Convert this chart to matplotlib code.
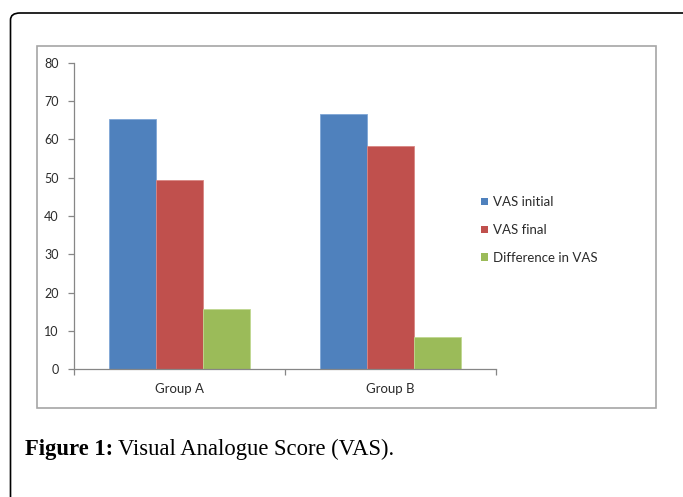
import matplotlib
matplotlib.use("Agg")
import matplotlib.pyplot as plt
import numpy as np
from matplotlib.patches import Rectangle, FancyBboxPatch

categories = ["Group A", "Group B"]
series_names = ["VAS initial", "VAS final", "Difference in VAS"]
vas_initial = [65.4, 66.7]
vas_final = [49.4, 58.2]
vas_diff = [15.7, 8.5]
series_values = [vas_initial, vas_final, vas_diff]
colors = ["#4F81BD", "#C0504D", "#9BBB59"]
edge_colors = ["#7FA6D6", "#D98683", "#C0D890"]
yticks = [0, 10, 20, 30, 40, 50, 60, 70, 80]

W, H = 683, 497
fig = plt.figure(figsize=(W / 100, H / 100), dpi=100)

chart_font = "Lato"
text_color = "#2b2b2b"
axis_color = "#868686"

# outer rounded border (extends beyond right/bottom)
outer = FancyBboxPatch((10.5 / W, (H - 700) / H), (720 - 10.5) / W, (700 - 13) / H,
                       boxstyle="round,pad=0,rounding_size=0.014",
                       transform=fig.transFigure, fill=False,
                       edgecolor="black", linewidth=1.2, clip_on=False)
fig.patches.append(outer)

# inner chart frame
inner = Rectangle((36.5 / W, 1 - 407.5 / H), (656 - 36.5) / W, (407.5 - 45.5) / H,
                  transform=fig.transFigure, fill=False,
                  edgecolor="#A6A6A6", linewidth=1.2)
fig.patches.append(inner)

left, right = 74 / W, 496 / W
bottom, top = 1 - 369.3 / H, 1 - 62.7 / H
ax = fig.add_axes([left, bottom, right - left, top - bottom])

x = np.arange(len(categories))
bw = 47 / 211
for i, (name, vals) in enumerate(zip(series_names, series_values)):
    ax.bar(x + (i - 1) * bw, vals, width=bw, color=colors[i],
           edgecolor=edge_colors[i], linewidth=0.6, label=name, zorder=2)

ax.set_xlim(-0.5, 1.5)
ax.set_ylim(0, 80)
ax.set_yticks(yticks)
ax.set_yticklabels([str(v) for v in yticks], fontfamily=chart_font,
                   fontsize=9, color=text_color)
ax.set_xticks([-0.5, 0.5, 1.5])
ax.set_xticklabels([])
ax.set_xticks(x, minor=True)
ax.set_xticklabels(categories, minor=True, fontfamily=chart_font,
                   fontsize=9.5, color=text_color)
ax.tick_params(axis="x", which="major", direction="out", length=4,
               color=axis_color, width=0.9)
ax.tick_params(axis="x", which="minor", length=0, pad=10)
ax.tick_params(axis="y", direction="out", length=4, color=axis_color,
               width=0.9, pad=7)
for s in ["top", "right"]:
    ax.spines[s].set_visible(False)
for s in ["left", "bottom"]:
    ax.spines[s].set_color(axis_color)
    ax.spines[s].set_linewidth(0.9)
ax.patch.set_alpha(0)

fs_leg = 9.5
leg = ax.legend(loc="center left", bbox_to_anchor=(481 / W, 1 - 230 / H),
                bbox_transform=fig.transFigure, frameon=False,
                prop={"family": chart_font, "size": fs_leg},
                handlelength=0.5, handleheight=0.5, handletextpad=0.4,
                labelspacing=1.2, borderpad=0, borderaxespad=0)
for t in leg.get_texts():
    t.set_color(text_color)
for h in leg.legend_handles:
    h.set_edgecolor("none")

# caption
t1 = fig.text(25 / W, 1 - 455 / H, "Figure 1:", fontfamily="Liberation Serif",
              fontweight="bold", fontsize=16.3, color="black", va="baseline")
fig.canvas.draw()
bb = t1.get_window_extent()
fig.text((bb.x1 + 5) / W, 1 - 455 / H, "Visual Analogue Score (VAS).",
         fontfamily="Liberation Serif", fontsize=16.3, color="black",
         va="baseline")

fig.savefig("out.png", dpi=100)
